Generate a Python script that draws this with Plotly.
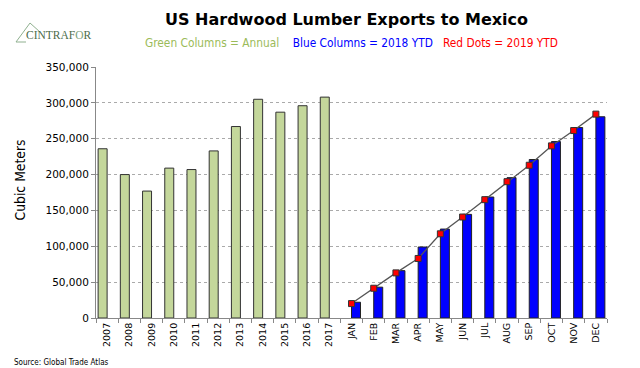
import plotly.graph_objects as go

years = ["2007", "2008", "2009", "2010", "2011", "2012", "2013", "2014", "2015", "2016", "2017"]
months = ["JAN", "FEB", "MAR", "APR", "MAY", "JUN", "JUL", "AUG", "SEP", "OCT", "NOV", "DEC"]
annual = [236000, 200000, 177000, 209000, 207000, 233000, 267000, 305000, 287000, 296000, 308000]
ytd_2018 = [22000, 43000, 66000, 99000, 124000, 144500, 168700, 195700, 221000, 246000, 265600, 280600]
ytd_2019 = [20100, 41500, 62900, 83000, 117400, 140800, 165000, 190100, 213000, 240000, 261400, 284300]

cats = years + months

# page body has an 8px margin: compensate
OFF = 8
W, H = 640 - OFF, 368 - OFF
L, R, T, B = 96 - OFF, 33, 67 - OFF, 368 - 318
pw, ph = W - L - R, H - T - B
def px(x):
    return (x - OFF - L) / pw
def py(y):
    return (H - B - (y - OFF)) / ph

COND = "DejaVu Sans Condensed, DejaVu Sans, sans-serif"

fig = go.Figure()
fig.add_trace(go.Bar(
    x=cats, y=annual + [None] * len(months),
    marker=dict(color="#c4d79b", line=dict(color="#333333", width=1)),
    name="Annual",
))
fig.add_trace(go.Bar(
    x=cats, y=[None] * len(years) + ytd_2018,
    marker=dict(color="#0000ff", line=dict(color="#222222", width=1)),
    name="2018 YTD",
))
fig.add_trace(go.Scatter(
    x=months, y=ytd_2019, mode="lines+markers",
    line=dict(color="#555555", width=1.3),
    marker=dict(symbol="square", size=6, color="#ff0000", line=dict(color="#333333", width=1)),
    name="2019 YTD",
))

fig.update_layout(
    width=W, height=H,
    margin=dict(l=L, r=R, t=T, b=B, autoexpand=False),
    paper_bgcolor="white", plot_bgcolor="white",
    barmode="group", bargap=0.19, bargroupgap=0,
    showlegend=False,
    font=dict(family="DejaVu Sans, sans-serif", size=10, color="#000000"),
    xaxis=dict(
        type="category", categoryorder="array", categoryarray=cats,
        range=[-0.5, len(cats) - 0.5],
        tickangle=-90, tickfont=dict(size=9.5),
        showline=True, linecolor="#888888", linewidth=1,
        ticks="outside", ticklen=4, tickcolor="#888888", tickson="boundaries",
        showgrid=False,
    ),
    yaxis=dict(
        range=[0, 350000], tickvals=[0, 50000, 100000, 150000, 200000, 250000, 300000, 350000],
        tickformat=",d", tickfont=dict(size=10.5),
        showline=True, linecolor="#888888", linewidth=1,
        ticks="outside", ticklen=4, tickcolor="#888888",
        showgrid=True, gridcolor="#aaaaaa", griddash="dot", gridwidth=1,
        zeroline=False,
    ),
    annotations=[
        dict(text="<b>US Hardwood Lumber Exports to Mexico</b>", x=px(346), y=py(20),
             xref="paper", yref="paper", xanchor="center", yanchor="middle",
             showarrow=False, font=dict(size=16, family="DejaVu Sans, sans-serif")),
        dict(text="<span style='color:#9bbb59'>Green Columns = Annual</span>"
                  "&nbsp;&nbsp;&nbsp;&nbsp;<span style='color:#0000ff'>Blue Columns = 2018 YTD</span>"
                  "&nbsp;&nbsp;&nbsp;<span style='color:#ff0000'>Red Dots = 2019 YTD</span>",
             x=px(351), y=py(43), xref="paper", yref="paper", xanchor="center", yanchor="middle",
             showarrow=False, font=dict(size=11.8, family=COND)),
        dict(text="Cubic Meters", x=px(19.5), y=py(180), textangle=-90,
             xref="paper", yref="paper", xanchor="center", yanchor="middle",
             showarrow=False, font=dict(size=13.8, family=COND)),
        dict(text="CINTRAF<span style='color:#7aa07a'>O</span>R", x=px(24), y=py(35),
             xref="paper", yref="paper", xanchor="left", yanchor="middle", showarrow=False,
             font=dict(size=11.5, family="Liberation Serif, serif", color="#4a6b4a")),
        dict(text="Source: Global Trade Atlas", x=px(12), y=py(362),
             xref="paper", yref="paper", xanchor="left", yanchor="middle", showarrow=False,
             font=dict(size=8, family=COND, color="#000000")),
    ],
)

# logo triangle
fig.add_shape(type="path", xref="paper", yref="paper",
              path=f"M {px(16)} {py(42)} L {px(30)} {py(23)} L {px(40)} {py(32)}",
              line=dict(color="#8fb08f", width=1))
fig.add_shape(type="line", xref="paper", yref="paper",
              x0=px(16), y0=py(42), x1=px(26), y1=py(42), line=dict(color="#8fb08f", width=1))

fig.write_html("out.html")
